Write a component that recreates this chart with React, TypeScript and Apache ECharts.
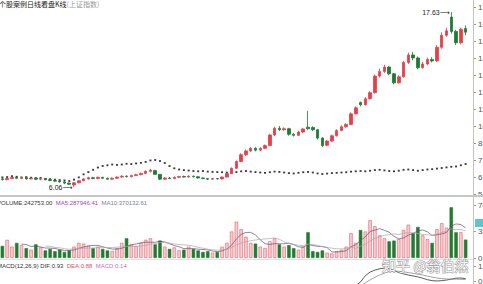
import React, { useEffect, useRef } from "react";
import * as echarts from "echarts";

// ---------- data ----------
const opens = [
  6.6, 6.55, 6.62, 6.7, 6.64, 6.68, 6.6, 6.66, 6.58, 6.62,
  6.55, 6.5, 6.45, 6.4, 6.32, 6.2, 6.34, 6.48, 6.6, 6.68,
  6.62, 6.7, 6.64, 6.58, 6.64, 6.72, 6.78, 6.74, 6.82, 6.88,
  6.96, 7.1, 7.16, 6.9, 6.58, 6.66, 6.62, 6.7, 6.76, 6.72,
  6.78, 6.74, 6.66, 6.62, 6.58, 6.62, 6.6, 6.72, 6.95, 7.3,
  7.75, 8.2, 8.45, 8.62, 8.5, 8.62, 8.8, 9.5, 9.95, 9.85,
  9.92, 9.55, 9.48, 9.7, 10.02, 10.0, 9.85, 9.3, 8.82, 9.1,
  9.45, 9.8, 10.05, 10.2, 10.9, 11.65, 11.5, 11.9, 12.3, 13.4,
  13.7, 14.0, 13.55, 12.95, 13.35, 14.3, 14.8, 14.6, 13.95, 14.2,
  14.5, 14.4, 15.3, 16.1, 17.3, 16.35, 15.6, 16.55,
];
const closes = [
  6.55, 6.62, 6.7, 6.64, 6.68, 6.6, 6.66, 6.58, 6.62, 6.55,
  6.5, 6.45, 6.4, 6.32, 6.25, 6.34, 6.48, 6.6, 6.68, 6.62,
  6.7, 6.64, 6.58, 6.64, 6.72, 6.78, 6.74, 6.82, 6.88, 6.96,
  7.1, 7.18, 6.9, 6.58, 6.66, 6.62, 6.7, 6.76, 6.72, 6.78,
  6.74, 6.66, 6.62, 6.58, 6.62, 6.6, 6.72, 6.95, 7.3, 7.75,
  8.2, 8.45, 8.62, 8.5, 8.62, 8.8, 9.5, 9.95, 9.85, 9.92,
  9.55, 9.48, 9.7, 9.9, 9.92, 9.85, 9.3, 8.8, 9.1, 9.45,
  9.8, 10.05, 10.2, 10.9, 11.3, 11.5, 11.9, 12.3, 13.4, 13.7,
  14.0, 13.55, 12.95, 13.35, 14.3, 14.8, 14.6, 13.95, 14.2, 14.5,
  14.4, 15.3, 16.1, 16.4, 16.35, 15.6, 16.5, 16.3,
];
const lows = [
  6.5, 6.5, 6.58, 6.6, 6.58, 6.55, 6.56, 6.52, 6.5, 6.5,
  6.44, 6.4, 6.35, 6.25, 6.18, 6.06, 6.3, 6.44, 6.55, 6.58,
  6.58, 6.6, 6.54, 6.54, 6.6, 6.68, 6.7, 6.7, 6.78, 6.84,
  6.92, 7.02, 6.86, 6.52, 6.52, 6.58, 6.58, 6.66, 6.68, 6.68,
  6.7, 6.62, 6.58, 6.52, 6.54, 6.55, 6.56, 6.68, 6.92, 7.26,
  7.7, 8.1, 8.38, 8.42, 8.44, 8.56, 8.76, 9.44, 9.76, 9.78,
  9.45, 9.4, 9.44, 9.62, 9.85, 9.76, 9.2, 8.7, 8.76, 9.05,
  9.4, 9.75, 9.98, 10.15, 10.85, 11.4, 11.45, 11.85, 12.25, 13.3,
  13.6, 13.45, 12.85, 12.9, 13.3, 14.2, 14.45, 13.85, 13.9, 14.12,
  14.3, 14.35, 15.2, 16.0, 16.2, 15.45, 15.5, 16.1,
];
const highs = [
  6.66, 6.68, 6.75, 6.74, 6.72, 6.72, 6.7, 6.7, 6.66, 6.65,
  6.6, 6.55, 6.5, 6.45, 6.36, 6.38, 6.52, 6.65, 6.74, 6.74,
  6.76, 6.74, 6.68, 6.7, 6.76, 6.84, 6.84, 6.88, 6.94, 7.02,
  7.16, 7.26, 7.2, 6.92, 6.72, 6.72, 6.76, 6.8, 6.82, 6.84,
  6.82, 6.78, 6.7, 6.66, 6.66, 6.66, 6.76, 7.0, 7.36, 7.82,
  8.3, 8.55, 8.72, 8.7, 8.7, 8.88, 9.58, 10.05, 10.1, 10.02,
  9.98, 9.62, 9.78, 9.98, 11.1, 10.08, 9.9, 9.35, 9.18, 9.52,
  9.88, 10.15, 10.3, 11.0, 11.4, 11.72, 12.0, 12.4, 13.5, 13.9,
  14.15, 14.05, 13.6, 13.45, 14.4, 14.95, 15.0, 14.7, 14.35, 14.62,
  14.65, 15.45, 16.3, 16.6, 17.63, 16.45, 16.6, 16.75,
];
// second (dotted) price series drawn over the candles
const overlay = [
  6.7, 6.72, 6.78, 6.74, 6.7, 6.72, 6.68, 6.64, 6.66, 6.6,
  6.58, 6.55, 6.52, 6.5, 6.46, 6.55, 6.7, 6.9, 7.05, 7.2,
  7.35, 7.45, 7.5, 7.55, 7.52, 7.55, 7.6, 7.58, 7.62, 7.66,
  7.72, 7.82, 7.85, 7.78, 7.65, 7.45, 7.3, 7.22, 7.18, 7.15,
  7.12, 7.1, 7.12, 7.08, 7.06, 7.05, 7.04, 7.02, 7.02, 7.05,
  7.1, 7.12, 7.08, 7.05, 7.02, 7.0, 7.04, 7.08, 7.06, 7.02,
  6.98, 6.96, 7.0, 7.04, 7.06, 7.02, 6.96, 6.92, 6.95, 6.98,
  7.0, 7.02, 7.04, 7.08, 7.1, 7.12, 7.1, 7.14, 7.18, 7.2,
  7.16, 7.12, 7.1, 7.14, 7.2, 7.22, 7.18, 7.14, 7.18, 7.22,
  7.24, 7.28, 7.32, 7.36, 7.4, 7.42, 7.5, 7.58,
];
const volumes = [
  160000, 240000, 150000, 200000, 170000, 130000, 110000, 180000, 140000, 100000,
  120000, 90000, 110000, 80000, 100000, 150000, 200000, 190000, 160000, 130000,
  150000, 120000, 100000, 90000, 130000, 200000, 260000, 180000, 160000, 200000,
  240000, 260000, 180000, 230000, 150000, 120000, 140000, 100000, 110000, 150000,
  120000, 100000, 80000, 90000, 70000, 80000, 150000, 200000, 350000, 480000,
  380000, 280000, 200000, 190000, 150000, 130000, 220000, 260000, 180000, 150000,
  170000, 130000, 110000, 150000, 340000, 90000, 80000, 100000, 70000, 60000,
  90000, 110000, 150000, 330000, 200000, 370000, 350000, 500000, 420000, 300000,
  260000, 220000, 230000, 250000, 370000, 440000, 330000, 410000, 300000, 250000,
  200000, 380000, 460000, 400000, 670000, 340000, 340000, 242753,
];
// MACD lines: only the part visible in the reference (from candle 74 on)
const macdStart = 74;
const difTail = [
  0.55, 0.75, 1.08, 1.28, 1.38, 1.45, 1.49, 1.46, 1.36, 1.25, 1.18, 1.12,
  1.07, 1.02, 0.95, 0.87, 0.82, 0.8, 0.82, 0.85, 0.9, 0.95, 0.96, 0.93,
];
const deaTail = [
  0.45, 0.55, 0.7, 0.86, 1.0, 1.12, 1.22, 1.3, 1.33, 1.32, 1.29, 1.25,
  1.21, 1.16, 1.12, 1.06, 1.01, 0.96, 0.93, 0.91, 0.9, 0.9, 0.89, 0.88,
];
const titleMain = "个股案例日线看盘K线";
const titleSub = "(上证指数)";
const volLabel = ["VOLUME:242753.00", "MA5:287946.41", "MA10:370132.61"];
const macdLabel = ["MACD(12,26,9) DIF:0.93", "DEA:0.88", "MACD:0.14"];
const watermark = "知乎 @翁伯然";

const categories = opens.map((_, i) => `D${i + 1}`);

const FONT = "'Liberation Sans', 'DejaVu Sans', sans-serif";
const CJK = "'Noto Sans CJK SC', 'Noto Sans', sans-serif";
const UP = "#e5404a";
const DOWN = "#1d7c33";

function movingAverage(src: number[], n: number) {
  return src.map((_, i) => {
    if (i < n - 1) return null;
    let s = 0;
    for (let k = i - n + 1; k <= i; k++) s += src[k];
    return s / n;
  });
}

export default function App() {
  const ref = useRef<HTMLDivElement>(null);

  useEffect(() => {
    if (!ref.current) return;
    const chart = echarts.init(ref.current, null, { renderer: "svg" });

    const candleData = opens.map((o, i) => [o, closes[i], lows[i], highs[i]]);
    const lowVal = Math.min(...lows);
    const highVal = Math.max(...highs);
    const lowIdx = lows.indexOf(lowVal);
    const highIdx = highs.indexOf(highVal);

    const volData = volumes.map((v, i) => {
      const up = closes[i] >= opens[i];
      return {
        value: v,
        itemStyle: up
          ? { color: "#f8c9ce", borderColor: "#e0646f", borderWidth: 0.6 }
          : { color: "#247a31", borderColor: "#247a31", borderWidth: 0.6 },
      };
    });

    const pad = (tail: number[]) =>
      categories.map((_, i) => (i >= macdStart ? tail[i - macdStart] : null));

    const hiddenX = (gridIndex: number) => ({
      type: "category" as const,
      gridIndex,
      data: categories,
      boundaryGap: true,
      axisLine: { show: false },
      axisTick: { show: false },
      axisLabel: { show: false },
      splitLine: { show: false },
    });

    const rightY = (gridIndex: number, min: number, max: number, interval: number, fmt: (v: number) => string) => ({
      type: "value" as const,
      gridIndex,
      position: "right" as const,
      offset: 5,
      min,
      max,
      interval,
      scale: true,
      splitLine: { show: false },
      axisLine: { show: false },
      axisTick: { show: true, length: 3, lineStyle: { color: "#9a9a9a" } },
      axisLabel: { margin: 5, fontSize: 8, color: "#555", fontFamily: FONT, formatter: fmt },
    });

    const gridBase = { left: 0, width: 468, containLabel: false, outerBoundsMode: "none" };

    const option: any = {
      animation: false,
      backgroundColor: "#ffffff",
      textStyle: { fontFamily: FONT },
      grid: [
        { ...gridBase, top: 5, height: 189 },
        { ...gridBase, top: 205, height: 53 },
        { ...gridBase, top: 266, height: 60 },
      ],
      xAxis: [hiddenX(0), hiddenX(1), hiddenX(2)],
      yAxis: [
        rightY(0, 5.6, 18.1, 1.12, (v) => v.toFixed(2)),
        rightY(1, 0, 700000, 350000, (v) => (v / 10000).toFixed(2)),
        rightY(2, -1.6, 1.6, 0.8, (v) => v.toFixed(2)),
      ],
      series: [
        {
          type: "candlestick",
          xAxisIndex: 0,
          yAxisIndex: 0,
          data: candleData,
          barWidth: 3,
          itemStyle: { color: UP, color0: DOWN, borderColor: UP, borderColor0: DOWN, borderWidth: 0.8 },
          z: 3,
          markPoint: {
            symbol: "circle",
            symbolSize: 1,
            itemStyle: { color: "rgba(0,0,0,0)" },
            label: { show: true, position: "left", distance: 1, fontSize: 7, color: "#222", fontFamily: FONT },
            data: [
              { coord: [lowIdx, lowVal], value: lowVal, label: { formatter: `${lowVal.toFixed(2)}⟶` } },
              { coord: [highIdx, highVal], value: highVal, label: { formatter: `${highVal.toFixed(2)}⟶` } },
            ],
          },
        },
        {
          type: "line",
          xAxisIndex: 0,
          yAxisIndex: 0,
          data: overlay,
          symbol: "rect",
          symbolSize: [2, 1.8],
          showSymbol: true,
          itemStyle: { color: "#3a3a3a" },
          lineStyle: { opacity: 0 },
          z: 2,
        },
        {
          type: "bar",
          xAxisIndex: 1,
          yAxisIndex: 1,
          data: volData,
          barWidth: "72%",
        },
        {
          type: "line",
          xAxisIndex: 1,
          yAxisIndex: 1,
          data: movingAverage(volumes, 5),
          showSymbol: false,
          lineStyle: { color: "#6b4a6b", width: 0.7 },
          z: 4,
        },
        {
          type: "line",
          xAxisIndex: 1,
          yAxisIndex: 1,
          data: movingAverage(volumes, 10),
          showSymbol: false,
          lineStyle: { color: "#a8a8a8", width: 0.7 },
          z: 4,
        },
        {
          type: "line",
          xAxisIndex: 2,
          yAxisIndex: 2,
          data: pad(difTail),
          showSymbol: false,
          lineStyle: { color: "#333333", width: 0.8 },
        },
        {
          type: "line",
          xAxisIndex: 2,
          yAxisIndex: 2,
          data: pad(deaTail),
          showSymbol: false,
          lineStyle: { color: "#8c8c8c", width: 0.8 },
        },
      ],
      graphic: [
        { type: "line", shape: { x1: 473.5, y1: 0, x2: 473.5, y2: 284 }, style: { stroke: "#c4c4c4", lineWidth: 1 }, z: 10 },
        { type: "line", shape: { x1: 0, y1: 196, x2: 483, y2: 196 }, style: { stroke: "#c6c6c6", lineWidth: 2 }, z: 10 },
        { type: "line", shape: { x1: 0, y1: 259.5, x2: 473, y2: 259.5 }, style: { stroke: "#e2e2e2", lineWidth: 1 }, z: 10 },
        { type: "rect", shape: { x: 475, y: 219, width: 8, height: 8 }, style: { fill: "#5cc6cf" }, z: 10 },
        {
          type: "text",
          x: -1,
          y: 0,
          z: 10,
          style: {
            text: `{a|${titleMain}}{b|${titleSub}}`,
            verticalAlign: "top",
            textVerticalAlign: "top",
            rich: {
              a: { fontSize: 7, fontFamily: CJK, fill: "#1a1a1a", color: "#1a1a1a" },
              b: { fontSize: 7, fontFamily: CJK, fill: "#9a9a9a", color: "#9a9a9a" },
            },
          },
        },
        {
          type: "text",
          x: -3,
          y: 197,
          z: 10,
          style: {
            text: `{a|${volLabel[0]}} {b|${volLabel[1]}} {c|${volLabel[2]}}`,
            verticalAlign: "top",
            textVerticalAlign: "top",
            rich: {
              a: { fontSize: 6, fontFamily: FONT, fill: "#333", color: "#333" },
              b: { fontSize: 6, fontFamily: FONT, fill: "#b03cc0", color: "#b03cc0" },
              c: { fontSize: 6, fontFamily: FONT, fill: "#7d7d95", color: "#7d7d95" },
            },
          },
        },
        {
          type: "text",
          x: -3,
          y: 260,
          z: 10,
          style: {
            text: `{a|${macdLabel[0]}} {b|${macdLabel[1]}} {c|${macdLabel[2]}}`,
            verticalAlign: "top",
            textVerticalAlign: "top",
            rich: {
              a: { fontSize: 6, fontFamily: FONT, fill: "#333", color: "#333" },
              b: { fontSize: 6, fontFamily: FONT, fill: "#e0505a", color: "#e0505a" },
              c: { fontSize: 6, fontFamily: FONT, fill: "#c070c8", color: "#c070c8" },
            },
          },
        },
        {
          type: "text",
          x: 382,
          y: 265,
          z: 20,
          style: {
            text: watermark,
            fontSize: 14,
            fontFamily: CJK,
            fill: "rgba(255,255,255,0.92)",
            stroke: "#9a9a9a",
            lineWidth: 1,
            verticalAlign: "middle",
            textVerticalAlign: "middle",
          },
        },
      ],
    };

    chart.setOption(option);
    return () => chart.dispose();
  }, []);

  return (
    <div
      ref={ref}
      style={{ position: "fixed", left: 0, top: 0, width: 483, height: 284, background: "#fff" }}
    />
  );
}
